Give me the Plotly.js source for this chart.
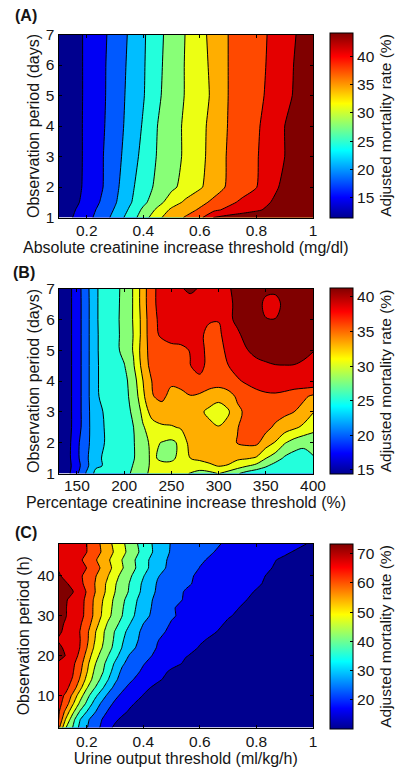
<!DOCTYPE html>
<html>
<head>
<meta charset="utf-8">
<script src="https://cdn.plot.ly/plotly-3.0.1.min.js"></script>
<style>html,body{margin:0;padding:0;background:#fff}</style>
</head>
<body>
<div id="chart" style="width:400px;height:769px"></div>
<script>
const jet = [[0,'rgb(0,0,143)'],[0.111,'rgb(0,0,255)'],[0.365,'rgb(0,255,255)'],[0.619,'rgb(255,255,0)'],[0.873,'rgb(255,0,0)'],[1,'rgb(128,0,0)']];

// Panel A
const xA = [0.1,0.15,0.2,0.25,0.3,0.35,0.4,0.45,0.5,0.55,0.6,0.65,0.7,0.75,0.8,0.85,0.9,0.95,1];
const yA = [1,1.25,1.5,2,3,4,5,6,7];
const zA = [
 [12,14,16,18.3,21,24.2,27.5,31.3,33.5,35.3,37.2,41.2,42,42.6,43,43.3,43.6,43.8,44],
 [11.7,13.6,15.6,17.8,20.3,23.3,26.6,29.6,32.6,33.8,35.4,37.4,38.7,39.7,40.6,41.6,42.5,43.2,44],
 [12,13,15.1,17.2,19.7,22.5,25.3,27.9,30.5,32.6,34.1,35.7,37.2,38.6,39.8,41,42,43,43.9],
 [11.5,12.9,14.6,16.6,19.2,22.1,24.6,26.7,28.4,30,31.6,33.6,35.4,36.6,37.9,40.2,41.6,42.7,43.8],
 [11.5,12.9,14.5,16.6,18.9,21.3,23.9,26.2,27.8,29.5,31.2,33.2,35.3,36.5,37.8,39.3,41,42.4,43.7],
 [11.5,12.9,14.5,16.4,18.6,20.9,23.3,26,27.8,29.5,31.1,33.1,35.1,36.3,37.6,39.2,41,42.3,43.6],
 [11.5,12.8,14.5,16.3,18.4,20.7,22.8,25.5,27.4,29.2,30.8,32.6,35,36.2,37.3,38.6,40.2,41.7,43.2],
 [11.5,12.8,14.5,16.3,18.3,20.5,22.7,25.3,27.3,29.2,30.9,32.8,35,36.1,37.2,38.4,40,41.6,43.4],
 [11.5,12.8,14.5,16.2,18.1,20.3,22.6,25.1,27.2,29.1,31.1,33,35,36.1,37.1,38.3,39.8,41.3,43]
];
const rangeA = [11.45,44.1];
const ticksA = [15,20,25,30,35,40];

// Panel B
const xB = [131,140,150,160,170,180,190,200,210,220,230,240,250,260,270,280,290,300,310,320,330,340,350,360,370,380,390,400];
const yB = [1,1.25,1.5,2,2.5,3,3.5,4,4.5,5,5.5,6,6.5,7];
const zB = [
 [14.6,16.1,18.9,22,24.9,25.2,25.7,26.2,26.9,28.6,29.6,30.1,30,29.6,29,28.1,28.4,29.2,28.1,26.9,25.7,24.9,24.7,24.5,24.5,24.5,24.5,24.5],
 [14.9,15.9,18.3,21.1,23.8,24.4,24.9,25.5,26.8,28,29.7,29.9,29.8,30.2,30.3,30.6,31.1,31.7,31.4,30.3,29.3,28.4,27,25.7,24.9,24.4,24.3,24.4],
 [14.9,16,18.7,21.3,23.6,24.6,25.2,25.8,26.5,28.1,29.6,28.5,28.6,29.8,31.55,32,32.4,32.7,32.4,32,31.8,31.3,29.2,27.9,26.3,25.5,25.4,26.4],
 [14.9,15.9,18.7,21.1,23.1,24.3,24.7,25.4,26.5,28.4,29.6,29,28.6,29.6,32.5,32.2,32.5,32.8,33.3,34.1,34.5,34.5,32.8,31.4,29.3,28.1,27.4,27.8],
 [14.9,15.9,18.1,20.8,23.5,24.3,25.1,25.8,26.65,28.9,30.3,31.2,31.3,31.8,32.3,32.8,32.2,31.7,32.4,33.9,35,35.1,34.7,33.6,32.8,32,31.1,29.8],
 [14.9,15.9,18.1,20.8,23.6,24.4,25.2,25.9,27,29.8,32.8,33,33.3,32.9,32.4,32,31,29.9,31.2,33.5,34.5,35.1,35.2,35,34.5,34,33,31.7],
 [14.9,15.9,18.1,20.8,24,24.6,25.3,26,27.4,31.1,33.9,34.5,33.3,33.4,33.9,33.6,32.9,32.6,33,34.4,35.2,35.8,36.1,36.1,35.8,35.2,34.5,33.5],
 [14.9,15.9,18.1,20.8,24,24.7,25.4,25.9,28,31.55,34.2,35,34.4,34.7,35.2,35.7,35.2,35,35.5,36.2,36.8,37.2,37.4,37.7,37.8,37.9,38.2,38.5],
 [14.9,15.9,18.1,20.8,24,24.7,25.7,26.5,28.9,32.5,35.1,35.3,35.7,36,36.4,37.4,35.5,35,36.4,37.2,37.7,38.2,38.5,38.8,38.85,38.8,38.5,38.2],
 [14.9,15.9,18.1,20.8,24,24.8,25.9,27.4,29.3,32.8,35.3,35.7,36.1,36.2,36.5,37.2,35.7,35,37.4,38.2,38.8,39.6,40.1,40.4,40.4,40.4,39.6,39],
 [14.9,15.9,18.1,20.8,24,24.8,25.9,27.4,29.2,32.5,36,36.7,36.9,36.9,36.9,36.9,35.8,35.8,37.9,38.4,39.9,40.4,40.6,40.6,40.6,40.6,40.4,40.1],
 [14.9,15.9,18.1,20.8,24,24.9,26,27.4,29.3,32.5,36.1,36.8,37.2,37.4,37.4,37.3,36.7,36.6,38.2,39.6,40.1,40.4,39,38.95,40.1,40.1,40.1,40.1],
 [14.9,15.9,18.1,20.8,24,24.9,26,27.3,29.3,32.8,36.2,36.9,37.4,37.7,37.9,37.9,37.8,37.7,38.2,39.6,40.1,40.1,38.2,38,39.6,40.1,40.4,40.1],
 [14.9,15.9,18.1,20.9,24,24.9,25.9,27.3,29.3,32.8,36.2,36.9,37.7,38.7,39.4,38.7,38.2,38.2,38.7,39.4,39.9,40.1,39.6,39.5,40.4,40.4,40.1,39.9]
];
const rangeB = [14.4,41.3];
const ticksB = [15,20,25,30,35,40];

// Panel C
const xC = [0.1,0.125,0.15,0.175,0.2,0.225,0.25,0.275,0.3,0.325,0.35,0.4,0.45,0.5,0.55,0.6,0.7,0.8,0.9,1];
const yC = [2,4,6,8,10,12,14,16,18,20,22,24,26,28,30,32,34,36,38,40,42,44,46,48];
const zC = [
 [58,45,38.75,31.7,27.6,24.2,21,17,15,14.2,13.6,12.7,12,11.7,11.3,11,10.6,10.3,10.1,10],
 [62,50,41,33.4,28.4,25,21.9,19,16.4,15,14.3,13.2,12.5,12,11.6,11.3,10.8,10.5,10.2,10],
 [62.7,54.7,46.1,38.5,33,28.3,24.4,21.1,18.4,16.7,15.4,13.8,13,12.5,12,11.7,11,10.6,10.2,10],
 [63.5,59.4,51.2,43.6,37.7,31.6,26.9,23.3,20.5,18.5,16.5,14.4,13.4,12.9,12.4,12,11.3,10.8,10.3,10],
 [63.8,61,54.8,47.4,40.8,35.2,30.4,26.2,22.8,20.4,18.3,15.6,14.1,13.4,12.8,12.3,11.6,11,10.4,10],
 [64,63.3,59.4,52.3,45,39.6,34.8,29.8,25.8,22.7,20.4,16.7,14.8,14,13.2,12.7,11.9,11.2,10.5,10.1],
 [65,63.8,61.4,55.6,48.6,42.6,38,33.2,28.4,24.8,22.6,18.8,16.3,14.5,13.8,13.2,12.3,11.5,10.8,10.2],
 [66,64,62.3,57.5,50.8,44.3,40.3,35.6,30.1,26.2,24.4,20.5,17.6,15,14.3,13.7,12.7,11.9,11,10.4],
 [66.8,65.4,63,58.7,52,45.6,41.2,36.8,32.2,28,25.6,21.8,18.8,17,15.2,14.3,13.1,12.2,11.2,10.5],
 [69,67.4,64.4,60.7,54,47.8,43,38.9,35,30.5,27,23.3,20.3,18.9,15.9,15,13.5,12.5,11.5,10.7],
 [68.6,66.6,64.4,61.8,56.2,50,45.2,41,37,32.8,29.2,24.8,21.2,19.4,17.2,15.5,13.8,12.7,11.8,10.8],
 [67,65.6,64.2,62.1,57.3,51,46.2,41.8,37.8,33.7,30.4,25.5,21.7,19.8,18,16.2,14,13,12,11],
 [68.4,66.4,64,61.8,57.4,51.6,46.6,42.2,38.4,34.8,31.4,25.9,22.6,20.6,19,17,14.9,13.4,12.2,11.1],
 [68.8,67,64.7,62.6,58.9,53.7,48.5,43.8,40.4,37,33.4,27.25,23.9,21.1,19.6,18.1,15.3,13.9,12.5,11.2],
 [69.3,67.8,65.4,63.4,60.4,55.2,50.5,46,42.3,38.8,35.2,29,25,22,20.3,18.4,16,14.2,12.7,11.3],
 [69.5,67.8,65.5,63.5,60.5,55.3,50.8,46.6,42.8,39.3,35.8,29.7,25.3,21.9,20.3,19.1,16.4,14.7,13,11.5],
 [70,68,66,63.7,60.6,55.6,51.4,47.2,43.3,40,36.6,30.2,25.6,23,21,19.3,17.2,15,13.2,11.7],
 [70.5,69,67.8,64.6,61.4,56.8,52.7,48.6,44.5,41.4,38.3,31.5,26.4,23.5,21.1,19.9,17.8,15.5,13.6,12],
 [69.5,68,66.5,63.2,60.2,56.5,52.8,49,45,41.6,38.7,32,26.8,24.4,22.2,20.5,18,16.2,13.8,12.2],
 [68,66.5,64.5,62.6,60.2,57,53.9,50.4,46.4,42.9,39.9,33.3,27.6,24.9,22.5,20.7,18.2,16.4,14.3,12.5],
 [67.2,66.2,64.6,63.1,61.7,58.8,55.6,52,48.6,45,41.8,35.2,29.2,25.8,23.4,21.4,18.8,16.9,14.8,12.8],
 [66.5,65.5,64,62.5,60.3,57.2,54.1,51.1,47.6,44.4,41.3,35.2,29.5,26.1,24,22,19.5,17.3,15.1,13],
 [66.2,65.2,64.2,63,61.8,59,56,52.8,49.4,46.2,43,36.8,31,26.6,24.6,22.9,20.1,18.1,16.3,14],
 [66,65,64,63,61.75,58.7,55.6,52,48.8,45.7,42.5,36.2,31,26.8,25.2,23.5,20.8,19,17.2,15.3]
];
const rangeC = [10,73.3];
const ticksC = [20,30,40,50,60,70];

const W = 400, H = 769;
const family = '"Liberation Sans", Arial, sans-serif';
const font = {family:family, size:16, color:'#151515'};
const tickFont = {family:family, size:15.5, color:'#151515'};
const cbTitleFont = {family:family, size:15.5, color:'#151515'};
function fx(p){return p/W;}
function fy(p){return 1-p/H;}

function contour(x,y,z,start,size,end,xa,ya,smooth){
  return {type:'contour',x:x,y:y,z:z,xaxis:xa,yaxis:ya,autocontour:false,
    contours:{start:start,size:size,end:end,coloring:'fill',showlines:true},
    line:{color:'#000',width:1,smoothing:smooth},
    colorscale:jet,showscale:false,hoverinfo:'skip',connectgaps:true};
}
function bar(range,ticks,title,xa,ya,xOut,yOut,top,bottom){
  return {type:'scatter',mode:'markers',x:[xOut,xOut],y:[yOut,yOut],xaxis:xa,yaxis:ya,hoverinfo:'skip',
    showlegend:false,
    marker:{size:1,opacity:0,color:range,cmin:range[0],cmax:range[1],colorscale:jet,showscale:true,
      colorbar:{x:fx(330),xanchor:'left',xpad:0,ypad:0,y:fy(bottom),yanchor:'bottom',
        len:bottom-top,lenmode:'pixels',thickness:23,thicknessmode:'pixels',
        outlinecolor:'#000',outlinewidth:1,bordercolor:'rgba(0,0,0,0)',
        tickmode:'array',tickvals:ticks,ticktext:ticks.map(String),ticks:'inside',ticklen:3,tickcolor:'#000',
        tickfont:tickFont,title:{text:title,side:'right',font:cbTitleFont}}}};
}
function axis(dom,range,anchor,title,tickvals,ticktext,standoff,labelStandoff){
  return {domain:dom,range:range,anchor:anchor,showgrid:false,zeroline:false,showline:true,linecolor:'#000',linewidth:1,
    mirror:'ticks',ticks:'inside',ticklen:3,tickcolor:'#000',tickwidth:1,tickmode:'array',tickvals:tickvals,ticktext:ticktext,
    ticklabelstandoff:labelStandoff,
    tickfont:tickFont,title:{text:title,font:font,standoff:standoff},fixedrange:true};
}
const data = [
  contour(xA,yA,zA,14,3,41,'x','y',0.5),
  bar(rangeA,ticksA,'Adjusted mortality rate (%)','x','y',-5,-5,33.5,218),
  contour(xB,yB,zB,16.85,2.45,38.95,'x2','y2',1),
  bar(rangeB,ticksB,'Adjusted mortality rate (%)','x2','y2',-5,-5,288,474),
  contour(xC,yC,zC,15.75,5.75,67.6,'x3','y3',0.3),
  bar(rangeC,ticksC,'Adjusted mortality rate (%)','x3','y3',-5,-5,544,729)
];
const layout = {
  width:W,height:H,autosize:false,margin:{l:0,r:0,t:0,b:0,autoexpand:false},
  paper_bgcolor:'#fff',plot_bgcolor:'#fff',font:font,showlegend:false,
  xaxis:axis([fx(58.5),fx(313)],[0.1,1],'y','Absolute creatinine increase threshold (mg/dl)',[0.2,0.4,0.6,0.8,1],['0.2','0.4','0.6','0.8','1'],0,-1),
  yaxis:axis([fy(217.5),fy(34.5)],[1,7],'x','Observation period (days)',[1,2,3,4,5,6,7],['1','2','3','4','5','6','7'],2,0),
  xaxis2:axis([fx(59),fx(313)],[131,400],'y2','Percentage creatinine increase threshold (%)',[150,200,250,300,350,400],['150','200','250','300','350','400'],0,-2),
  yaxis2:axis([fy(473.5),fy(288.5)],[1,7],'x2','Observation period (days)',[1,2,3,4,5,6,7],['1','2','3','4','5','6','7'],2,0),
  xaxis3:axis([fx(58.5),fx(313)],[0.1,1],'y3','Urine output threshold (ml/kg/h)',[0.2,0.4,0.6,0.8,1],['0.2','0.4','0.6','0.8','1'],0,0),
  yaxis3:axis([fy(727.5),fy(544)],[2,48],'x3','Observation period (h)',[10,20,30,40],['10','20','30','40'],3,0),
  annotations:[
    {text:'<b>(A)</b>',xref:'paper',yref:'paper',x:fx(13),y:fy(16),xanchor:'left',yanchor:'middle',showarrow:false,font:font},
    {text:'<b>(B)</b>',xref:'paper',yref:'paper',x:fx(11),y:fy(272),xanchor:'left',yanchor:'middle',showarrow:false,font:font},
    {text:'<b>(C)</b>',xref:'paper',yref:'paper',x:fx(13),y:fy(532),xanchor:'left',yanchor:'middle',showarrow:false,font:font}
  ]
};
Plotly.newPlot('chart',data,layout,{displayModeBar:false,staticPlot:true});
</script>
</body>
</html>
